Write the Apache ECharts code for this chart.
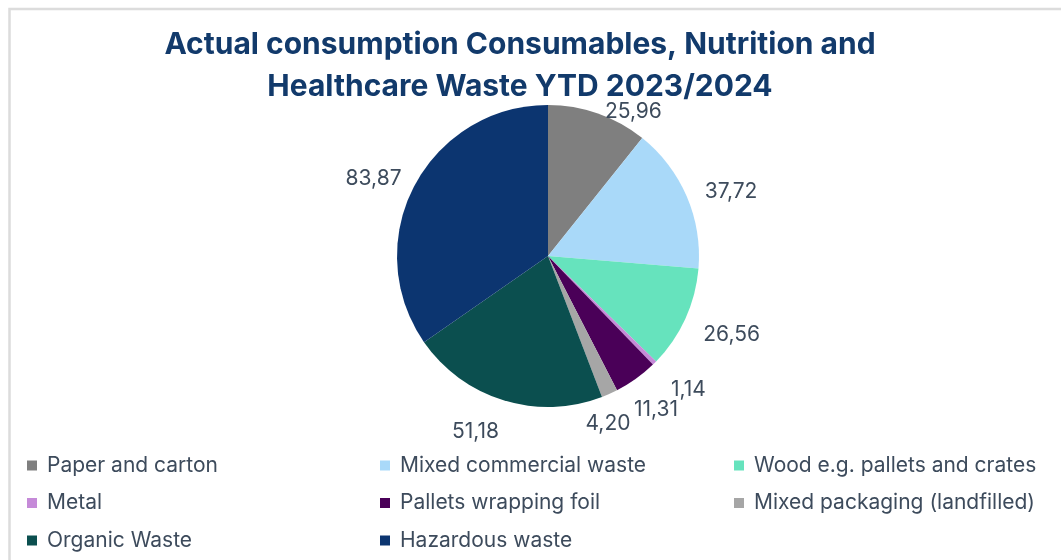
<!DOCTYPE html>
<html>
<head>
<meta charset="utf-8">
<script src="https://cdn.jsdelivr.net/npm/echarts@6/dist/echarts.min.js"></script>
<style>
html,body{margin:0;padding:0;background:#fff;}
#chart{width:1061px;height:560px;}
</style>
</head>
<body>
<div id="chart"></div>
<script>
const titleText = 'Actual consumption Consumables, Nutrition and\nHealthcare Waste YTD 2023/2024';
const categories = ['Paper and carton','Mixed commercial waste','Wood e.g. pallets and crates','Metal','Pallets wrapping foil','Mixed packaging (landfilled)','Organic Waste','Hazardous waste'];
const values = [25.96, 37.72, 26.56, 1.14, 11.31, 4.20, 51.18, 83.87];
const colors = ['#7f7f7f','#a9d9f9','#66e3bd','#c58ad8','#4a0058','#a6a6a6','#0b4f4f','#0c3570'];
const legendCols = [
  ['Paper and carton','Metal','Organic Waste'],
  ['Mixed commercial waste','Pallets wrapping foil','Hazardous waste'],
  ['Wood e.g. pallets and crates','Mixed packaging (landfilled)']
];
// label nudges (styling only), [dx, dy] per slice
const labelNudges = [[-2,10],[2,0],[2,11],[3,18],[-14,21],[-34,19],[4,20],[3,-2]];

const FONT = 'Inter, "Noto Sans", sans-serif';
const textColor = '#3d4b5c';
const chart = echarts.init(document.getElementById('chart'), null, {renderer:'canvas'});

const legendLefts = [27, 380, 734];
const legends = legendCols.map((col, i) => ({
  orient: 'vertical',
  left: legendLefts[i],
  top: 455,
  padding: 0,
  data: col,
  icon: 'rect',
  itemWidth: 10,
  itemHeight: 10,
  itemGap: 16.5,
  textStyle: {fontFamily: FONT, fontSize: 21, color: textColor, lineHeight: 20, padding: [0,0,0,5]}
}));

chart.setOption({
  animation: false,
  backgroundColor: '#ffffff',
  color: colors,
  graphic: [{
    type: 'rect', silent: true, z: -1,
    shape: {x: 9.5, y: 9, width: 1200, height: 700},
    style: {fill: 'none', stroke: '#dcdcdc', lineWidth: 2.5}
  }],
  title: {
    text: titleText,
    left: 515, top: 19, textAlign: 'center',
    textStyle: {fontFamily: FONT, fontSize: 30, fontWeight: 'bold', color: '#123a6b', lineHeight: 42}
  },
  legend: legends,
  series: [{
    type: 'pie',
    center: [548, 256],
    radius: 151,
    startAngle: 90,
    clockwise: true,
    avoidLabelOverlap: false,
    data: categories.map((c, i) => ({name: c, value: values[i]})),
    label: {
      show: true, position: 'outside',
      fontFamily: FONT, fontSize: 21, color: textColor,
      formatter: p => p.value.toFixed(2).replace('.', ',')
    },
    labelLine: {show: false, length: 12, length2: 0},
    labelLayout: p => ({dx: labelNudges[p.dataIndex][0], dy: labelNudges[p.dataIndex][1]}),
    itemStyle: {borderWidth: 0}
  }]
});
</script>
</body>
</html>
